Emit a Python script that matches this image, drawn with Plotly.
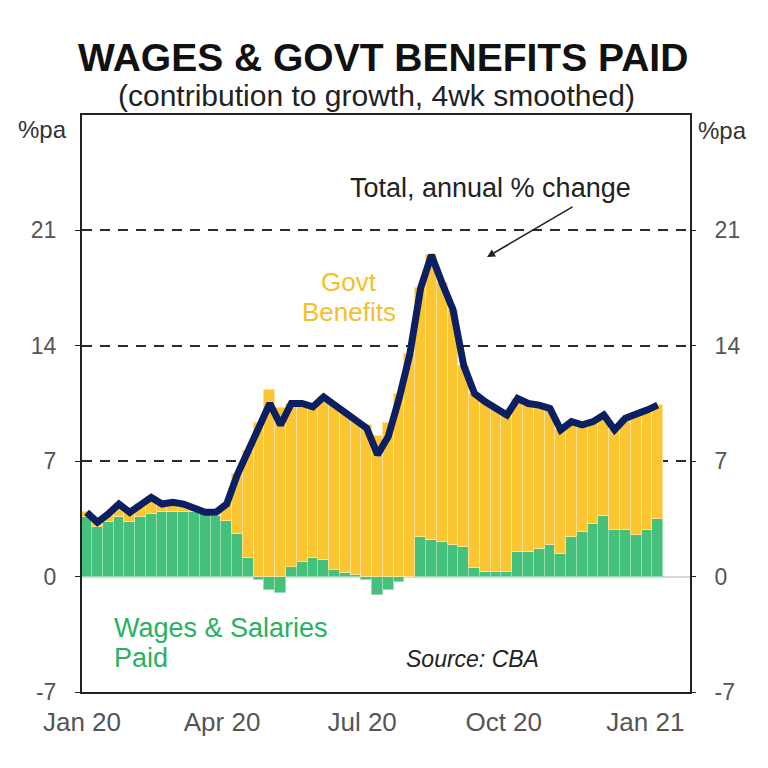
import pandas as pd
import plotly.graph_objects as go

# ---- data (weekly) ----
week_start = "2020-01-04"
n_weeks = 54
dates = pd.date_range(week_start, periods=n_weeks, freq="7D")

total = [3.9, 3.3, 3.8, 4.4, 3.9, 4.4, 4.8, 4.4, 4.5, 4.4,
         4.2, 3.9, 3.9, 4.4, 6.2, 7.6, 9.1, 10.5, 9.2, 10.5,
         10.5, 10.3, 10.9, 10.4, 9.9, 9.5, 9.0, 7.4, 8.5, 10.8,
         13.5, 17.5, 19.5, 17.8, 16.2, 12.8, 11.1, 10.6, 10.2, 9.8,
         10.8, 10.5, 10.4, 10.2, 8.9, 9.4, 9.2, 9.4, 9.8, 8.9,
         9.6, 9.8, 10.1, 10.4]

wages = [3.6, 3.0, 3.3, 3.6, 3.3, 3.6, 3.8, 3.9, 3.9, 3.9,
         3.9, 3.8, 3.7, 3.4, 2.6, 1.1, -0.2, -0.8, -1.0, 0.6,
         0.9, 1.1, 1.0, 0.4, 0.2, 0.1, -0.2, -1.1, -0.8, -0.3,
         0.0, 2.4, 2.2, 2.1, 1.9, 1.8, 0.5, 0.3, 0.3, 0.3,
         1.5, 1.5, 1.7, 1.9, 1.4, 2.4, 2.7, 3.2, 3.7, 2.8,
         2.8, 2.5, 2.8, 3.5]

govt = [0.3, 0.3, 0.5, 0.8, 0.6, 0.8, 1.0, 0.5, 0.6, 0.5,
        0.3, 0.1, 0.2, 1.0, 3.6, 6.5, 9.3, 11.3, 10.2, 9.9,
        9.6, 9.2, 9.9, 10.0, 9.7, 9.4, 9.2, 8.5, 9.3, 11.1,
        13.5, 15.1, 17.3, 15.7, 14.3, 11.0, 10.6, 10.3, 9.9, 9.5,
        9.3, 9.0, 8.7, 8.3, 7.5, 7.0, 6.5, 6.2, 6.1, 6.1,
        6.8, 7.3, 7.3, 6.9]

y_ticks = [-7, 0, 7, 14, 21]
y_ticktext = ["-7", "0", "7", "14", "21"]
x_tickvals = ["2020-01-01", "2020-04-01", "2020-07-01", "2020-10-01", "2021-01-01"]
x_ticktext = ["Jan 20", "Apr 20", "Jul 20", "Oct 20", "Jan 21"]

FONT = "Liberation Sans, Arial, Helvetica, sans-serif"
GREEN = "#45c17c"
YELLOW = "#fcc532"
NAVY = "#0c1f63"

fig = go.Figure()
fig.add_trace(go.Bar(x=dates, y=wages, marker=dict(color=GREEN, line=dict(color="#95dcb3", width=1)),
                     name="Wages & Salaries Paid", hoverinfo="skip"))
fig.add_trace(go.Bar(x=dates, y=govt, marker=dict(color=YELLOW, line=dict(color="#fde39a", width=1)),
                     name="Govt Benefits", hoverinfo="skip"))
fig.add_trace(go.Scatter(x=dates, y=total, mode="lines", line=dict(color=NAVY, width=7),
                         name="Total", yaxis="y2", hoverinfo="skip"))

axis_common = dict(range=[-7, 28], tickvals=y_ticks, ticktext=y_ticktext, ticks="outside", ticklen=5,
                   tickcolor="#222", tickfont=dict(size=23, color="#555", family=FONT),
                   ticklabelstandoff=14, fixedrange=True)

# page body has an 8px margin, so the figure is drawn 8px in from the window edge
fig.update_layout(
    width=760, height=760,
    margin=dict(l=74, r=78, t=107, b=76, autoexpand=False),
    paper_bgcolor="white", plot_bgcolor="white",
    barmode="relative", bargap=0,
    showlegend=False,
    font=dict(family=FONT, color="#222"),
    xaxis=dict(type="date", range=["2020-01-01", "2021-01-30"], tickvals=x_tickvals,
               ticktext=x_ticktext, showgrid=False, ticks="", zeroline=False,
               showline=True, linecolor="#222", linewidth=2, mirror=True,
               tickfont=dict(size=26, color="#555", family=FONT), ticklabelstandoff=6),
    yaxis=dict(**axis_common, showgrid=True, gridcolor="#2a2a2a", gridwidth=2,
               griddash="10px,8px", zeroline=True, zerolinecolor="#d8d8d8", zerolinewidth=2,
               showline=True, linecolor="#222", linewidth=2, mirror=True),
    yaxis2=dict(**axis_common, overlaying="y", side="right", showgrid=False,
                zeroline=False, showline=False),
)

# helpers converting window pixels of the reference into paper coordinates
def px_x(px):
    return (px - 82) / 608.0

def px_y(py):
    return (692 - py) / 577.0

annots = [
    dict(text="<b>WAGES &amp; GOVT BENEFITS PAID</b>", x=px_x(383), y=px_y(58),
         font=dict(size=39, color="#111")),
    dict(text="(contribution to growth, 4wk smoothed)", x=px_x(376), y=px_y(95),
         font=dict(size=30, color="#222")),
    dict(text="%pa", x=px_x(42), y=px_y(129), font=dict(size=24, color="#333")),
    dict(text="%pa", x=px_x(722), y=px_y(130), font=dict(size=24, color="#333")),
    dict(text="Total, annual % change", x=px_x(490), y=px_y(188), font=dict(size=27, color="#222")),
    dict(text="Govt", x=px_x(349), y=px_y(282), font=dict(size=26, color="#f5bf2a")),
    dict(text="Benefits", x=px_x(349), y=px_y(312), font=dict(size=26, color="#f5bf2a")),
    dict(text="Wages &amp; Salaries", x=px_x(112), y=px_y(628), xanchor="left",
         font=dict(size=27, color="#27b262")),
    dict(text="Paid", x=px_x(112), y=px_y(658), xanchor="left",
         font=dict(size=27, color="#27b262")),
    dict(text="<i>Source: CBA</i>", x=px_x(472), y=px_y(659), font=dict(size=23, color="#222")),
]
for a in annots:
    a.update(xref="paper", yref="paper", showarrow=False)
    a.setdefault("xanchor", "center")
    a["yanchor"] = "middle"
    fig.add_annotation(**a)

fig.add_annotation(x=px_x(487), y=px_y(257), xref="paper", yref="paper", text="",
                   showarrow=True, ax=87, ay=-51, arrowhead=2, arrowsize=1,
                   arrowwidth=1.6, arrowcolor="#222")

fig.write_html("out.html")
